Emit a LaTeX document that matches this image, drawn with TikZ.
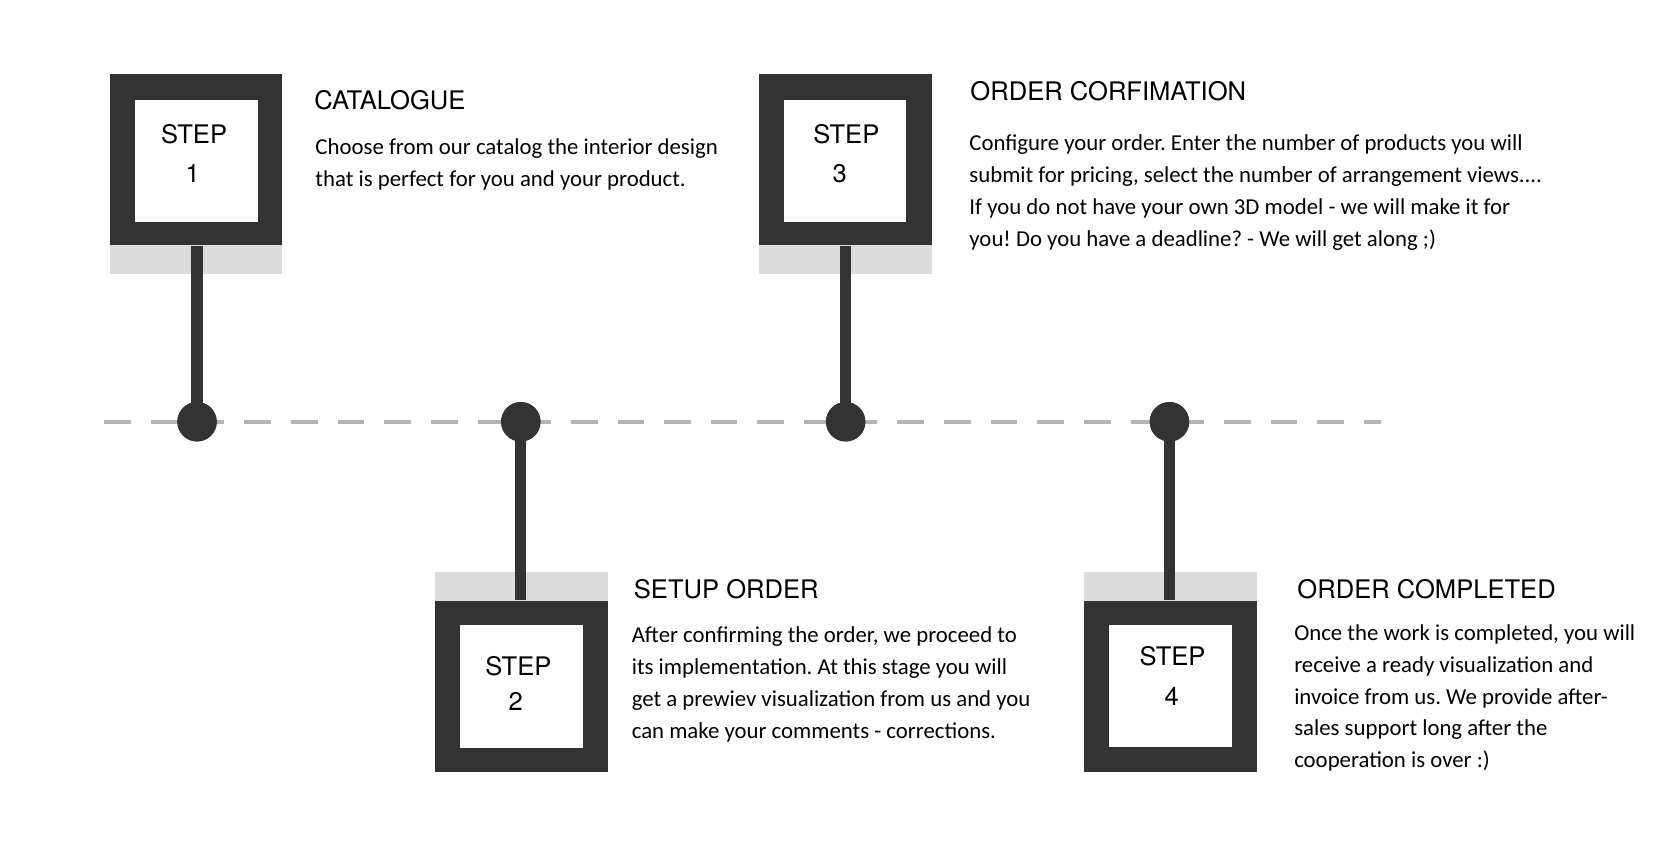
\documentclass[tikz,border=0pt]{standalone}
\usepackage{fontspec}
\setmainfont{Carlito}
\newfontfamily\headfont{TeX Gyre Heros}
\definecolor{darkc}{HTML}{333333}
\definecolor{bandc}{HTML}{DCDCDD}
\definecolor{dashc}{HTML}{B4B4B4}
\frenchspacing
\begin{document}
\frenchspacing
\begin{tikzpicture}[x=1pt,y=-1pt,
  outerbox/.style={draw=none,fill=darkc,minimum width=162pt,minimum height=161pt,inner sep=0pt},
  innerbox/.style={draw=none,fill=white,minimum width=115pt,minimum height=115pt,inner sep=0pt},
  bandbox/.style={draw=none,fill=bandc,minimum width=162pt,minimum height=27pt,inner sep=0pt},
  steplbl/.style={font=\headfont\fontsize{24}{28}\selectfont,text=black,inner sep=0pt,anchor=base},
  dotnode/.style={circle,fill=darkc,minimum size=37pt,inner sep=0pt},
  stemline/.style={draw=darkc,line width=10.5pt},
  dashline/.style={draw=dashc,line width=4pt,dash pattern=on 25pt off 18.8pt},
  heading/.style={font=\headfont\fontsize{24}{28}\selectfont,text=black,inner sep=0pt,anchor=base west},
  body/.style={font=\fontsize{21.4}{30}\selectfont\frenchspacing,text=black,inner sep=0pt,anchor=base west,align=left}
]
\useasboundingbox (0,0) rectangle (1568,791);
% timeline
\coordinate (l0) at (98,396);
\coordinate (l1) at (1297,396);
\draw[dashline] (l0) -- (l1);

% step 1
\node[bandbox] (b1) at (184,244) {};
\node[outerbox] (o1) at (184,150) {};
\node[innerbox] (i1) at (184.5,151) {};
\node[steplbl] (s1) at (182.2,134.6) {STEP};
\node[steplbl] (n1) at (181,171.5) {1};
\node[dotnode] (d1) at (185,396) {};
\draw[stemline] (d1.center) -- (o1.south -| d1.center);
\node[dotnode] (d1b) at (185,396) {};

% step 3
\node[bandbox] (b3) at (794,244) {};
\node[outerbox] (o3) at (794,150) {};
\node[innerbox] (i3) at (793.5,151) {};
\node[steplbl] (s3) at (794.6,135.2) {STEP};
\node[steplbl] (n3) at (788.4,171.5) {3};
\node[dotnode] (d3) at (794,396) {};
\draw[stemline] (d3.center) -- (o3.south -| d3.center);
\node[dotnode] (d3b) at (794,396) {};

% step 2
\node[bandbox] (b2) at (489.5,550.5) {};
\node[outerbox] (o2) at (489.5,644.5) {};
\node[innerbox] (i2) at (489.5,644.5) {};
\node[steplbl] (s2) at (486.7,634.4) {STEP};
\node[steplbl] (n2) at (484.3,666.7) {2};
\node[dotnode] (d2) at (489,396) {};
\draw[stemline] (d2.center) -- (o2.north -| d2.center);
\node[dotnode] (d2b) at (489,396) {};

% step 4
\node[bandbox] (b4) at (1099,550.5) {};
\node[outerbox] (o4) at (1099,644.5) {};
\node[innerbox] (i4) at (1099,644) {};
\node[steplbl] (s4) at (1100.9,624.4) {STEP};
\node[steplbl] (n4) at (1100.2,662) {4};
\node[dotnode] (d4) at (1098,396) {};
\draw[stemline] (d4.center) -- (o4.north -| d4.center);
\node[dotnode] (d4b) at (1098,396) {};

% texts (body nodes are placed at the baseline of their last line)
\node[heading] (h1) at (295,102.7) {CATALOGUE};
\node[body] (t1) at (296,175.5) {Choose from our catalog the interior design\\that is perfect for you and your product.};

\node[heading] (h3) at (911,94) {ORDER CORFIMATION};
\node[body] (t3) at (910,231.5) {Configure your order. Enter the number of products you will\\submit for pricing, select the number of arrangement views....\\If you do not have your own 3D model - we will make it for\\you! Do you have a deadline? - We will get along ;)};

\node[heading] (h2) at (595,562.4) {SETUP ORDER};
\node[body] (t2) at (593,693.4) {After confirming the order, we proceed to\\its implementation. At this stage you will\\get a prewiev visualization from us and you\\can make your comments - corrections.};

\node[heading] (h4) at (1218,562.4) {ORDER COMPLETED};
\node[body] (t4) at (1215,721) {Once the work is completed, you will\\receive a ready visualization and\\invoice from us. We provide after-\\sales support long after the\\cooperation is over :)};
\end{tikzpicture}
\end{document}
